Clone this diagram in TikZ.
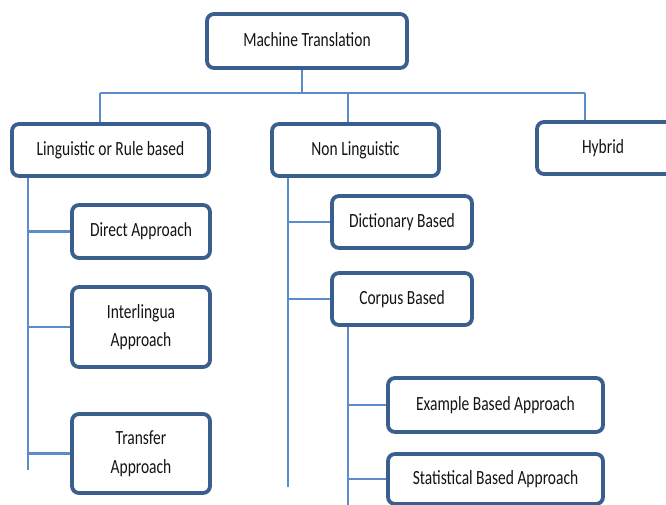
\documentclass[tikz,border=0pt]{standalone}
\usepackage{fontspec}
\usepackage{graphicx}
\setmainfont{Carlito}
\definecolor{boxblue}{HTML}{3A5F8F}
\definecolor{linkblue}{HTML}{5B8BC9}
% text is set slightly tall, as in the original chart
\newcommand\tallText[1]{\scalebox{1}[1.3]{\begin{tabular}{@{}c@{}}#1\end{tabular}}}
\tikzset{
  box/.style={draw=boxblue, line width=3.8pt, rounded corners=7pt, fill=white,
    inner sep=0pt, font=\fontsize{15.5}{21}\selectfont, text=black!92},
  link/.style={draw=linkblue, line width=2.8pt}
}
\begin{document}
\begin{tikzpicture}[x=1pt,y=-1pt]
\useasboundingbox (0,0) rectangle (666,505);
\clip (0,0) rectangle (666,505);
\fill[white] (0,0) rectangle (666,505);

% junction points of the tree
\coordinate (top) at (302,93);
\coordinate (busL) at (100,93);
\coordinate (busM) at (348,93);
\coordinate (busR) at (585,93);
\coordinate (spineL) at (28,470);
\coordinate (spineN) at (288,487);
\coordinate (spineC) at (348,506);

% boxes (the Hybrid box runs past the right edge)
\path
  node[box, minimum width=200, minimum height=54] (mt) at (307,41) {\tallText{Machine Translation}}
  node[box, minimum width=197, minimum height=52] (ling) at (110.5,150) {\tallText{Linguistic or Rule based}}
  node[box, minimum width=167, minimum height=52] (nonling) at (355.5,150) {\tallText{Non Linguistic}}
  node[box, minimum width=156, minimum height=52] (hybrid) at (615,148) {\hspace*{-24pt}\tallText{Hybrid}}
  node[box, minimum width=138, minimum height=53] (direct) at (141,231.5) {\tallText{Direct Approach}}
  node[box, minimum width=138, minimum height=80] (inter) at (141,327) {\tallText{Interlingua\\[1pt]Approach}}
  node[box, minimum width=138, minimum height=79] (transfer) at (141,453.5) {\tallText{Transfer\\[1pt]Approach}}
  node[box, minimum width=140, minimum height=52] (dict) at (402,222) {\tallText{Dictionary Based}}
  node[box, minimum width=140, minimum height=52] (corpus) at (402,299) {\tallText{Corpus Based}}
  node[box, minimum width=215, minimum height=54] (example) at (495.5,405) {\tallText{Example Based Approach}}
  node[box, minimum width=215, minimum height=50] (stat) at (495.5,479) {\tallText{Statistical Based Approach}};

% links
\draw[link] (top |- mt.south) -- (top);
\draw[link] (busL) -- (busR);
\draw[link] (busL) -- (busL |- ling.north);
\draw[link] (busM) -- (busM |- nonling.north);
\draw[link] (busR) -- (busR |- hybrid.north);

\draw[link] (spineL |- ling.south) -- (spineL);
\draw[link] (spineL |- direct.west) -- (direct.west);
\draw[link] (spineL |- inter.west) -- (inter.west);
\draw[link] (spineL |- transfer.west) -- (transfer.west);

\draw[link] (spineN |- nonling.south) -- (spineN);
\draw[link] (spineN |- dict.west) -- (dict.west);
\draw[link] (spineN |- corpus.west) -- (corpus.west);

\draw[link] (spineC |- corpus.south) -- (spineC);
\draw[link] (spineC |- example.west) -- (example.west);
\draw[link] (spineC |- stat.west) -- (stat.west);
\end{tikzpicture}
\end{document}
